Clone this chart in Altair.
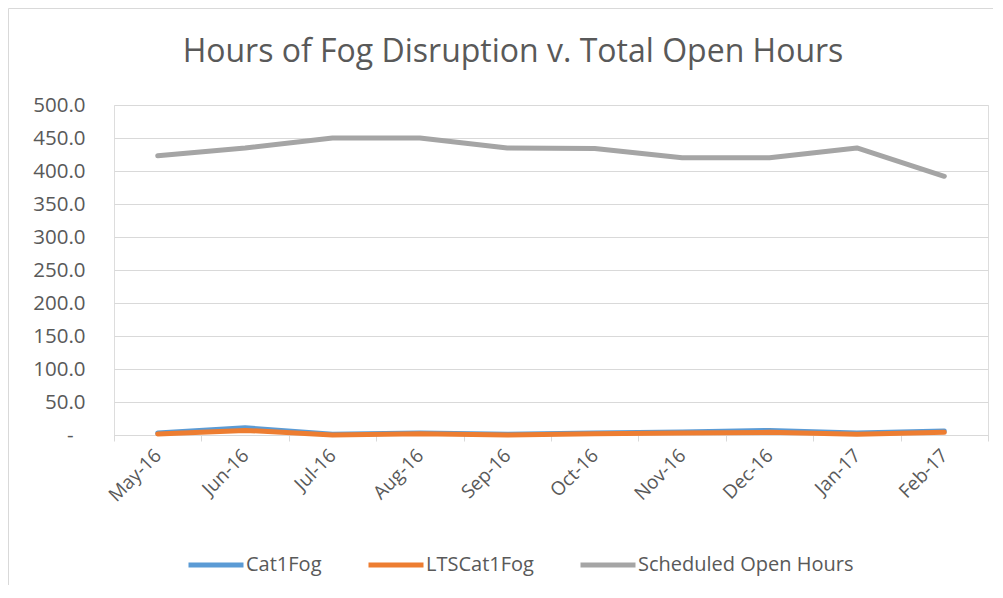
import altair as alt
import pandas as pd

months = ["May-16", "Jun-16", "Jul-16", "Aug-16", "Sep-16", "Oct-16",
          "Nov-16", "Dec-16", "Jan-17", "Feb-17"]
cat1fog = [3, 11, 1, 3, 1, 3, 4.5, 7, 3, 6]
lts_cat1fog = [1.5, 7, 0, 2, 0, 2, 3, 4, 1, 4]
scheduled = [423, 435, 450, 450, 435, 434, 420, 420, 435, 392]

series_names = ["Cat1Fog", "LTSCat1Fog", "Scheduled Open Hours"]
series_colors = ["#5b9bd5", "#ed7d31", "#a5a5a5"]
y_ticks = [0, 50, 100, 150, 200, 250, 300, 350, 400, 450, 500]
title_text = ["Hours of Fog Disruption v. Total Open Hours"]

rows = []
for name, vals in zip(series_names, [cat1fog, lts_cat1fog, scheduled]):
    for m, v in zip(months, vals):
        rows.append({"Month": m, "Series": name, "Hours": v})
df = pd.DataFrame(rows)

FONT = "Open Sans"
TXT = "#595959"
GRID = "#d9d9d9"

W, H = 874, 330

lines = alt.Chart(df).mark_line(strokeWidth=5, strokeCap="round", strokeJoin="round").encode(
    x=alt.X("Month:N", sort=months, bandPosition=0.5,
            scale=alt.Scale(type="band", paddingInner=0, paddingOuter=0),
            axis=alt.Axis(title=None, labelAngle=-45, labelAlign="right", labelBaseline="middle",
                          labelFont=FONT, labelFontSize=19, labelColor=TXT, labelPadding=11,
                          tickBand="extent", tickSize=6, tickColor=GRID, domainColor=GRID,
                          grid=False)),
    y=alt.Y("Hours:Q", scale=alt.Scale(domain=[0, 500], nice=False),
            axis=alt.Axis(title=None, values=y_ticks, ticks=False, domain=False,
                          gridColor=GRID, gridWidth=1,
                          labelExpr="datum.value == 0 ? '-' : format(datum.value, '.1f')",
                          labelFont=FONT, labelFontSize=20.5, labelColor=TXT,
                          labelPadding={"condition": {"test": "datum.value == 0", "value": 41}, "value": 29},
                          labelAlign="right")),
    color=alt.Color("Series:N", sort=series_names,
                    scale=alt.Scale(domain=series_names, range=series_colors),
                    legend=alt.Legend(title=None, orient="none", direction="horizontal",
                                      legendX=72, legendY=430,
                                      symbolType="stroke", symbolSize=3025, symbolStrokeWidth=5,
                                      labelFont=FONT, labelFontSize=20, labelColor=TXT,
                                      labelOffset=0, columnPadding=36, labelLimit=0)),
    order=alt.Order("Series:N"),
)

title = alt.Chart(pd.DataFrame({"t": title_text})).mark_text(
    font=FONT, fontSize=32, color=TXT, align="center", baseline="middle"
).encode(text="t:N", x=alt.value(399), y=alt.value(-53))

border = alt.Chart(pd.DataFrame({"a": [0]})).mark_rect(filled=False, stroke=GRID, strokeWidth=1).encode(
    x=alt.value(-105.5), x2=alt.value(W + 50), y=alt.value(-96.5), y2=alt.value(H + 300)
)

chart = alt.layer(border, title, lines).properties(
    width=W, height=H,
    autosize=alt.AutoSizeParams(type="none"),
    padding={"left": 106, "top": 97, "right": 5, "bottom": 150},
).configure_view(stroke=None).configure(background="white")

chart.save("out.html", embed_options={"renderer": "svg", "actions": False})
